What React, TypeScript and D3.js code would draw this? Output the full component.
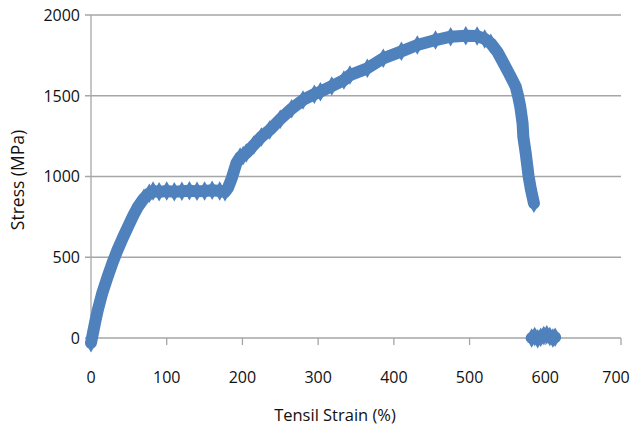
import React from "react";
import * as d3 from "d3";

const strain = [0, 3, 6, 9, 15, 22, 28, 35, 42, 49, 56, 62, 70, 77, 82, 90, 100, 110, 120, 130, 140, 150, 160, 170, 177, 181, 186, 192, 197, 201, 205, 215, 225, 236, 250, 265, 280, 295, 303, 318, 334, 342, 365, 386, 410, 431, 455, 475, 495, 510, 520, 528, 537, 545, 553, 561, 564, 567, 570, 571, 574, 578, 581, 585];
const stress = [-30, 40, 110, 173, 280, 380, 460, 545, 620, 690, 760, 813, 865, 896, 910, 905, 910, 905, 908, 912, 908, 910, 915, 910, 905, 930, 990, 1082, 1120, 1130, 1145, 1195, 1245, 1288, 1355, 1420, 1474, 1510, 1525, 1560, 1597, 1628, 1670, 1732, 1775, 1814, 1845, 1866, 1872, 1870, 1852, 1825, 1770, 1700, 1630, 1556, 1500, 1432, 1329, 1246, 1150, 1000, 920, 834];
const breakStrain = [582, 586, 590, 594, 598, 602, 606, 610, 613];
const breakStress = [0, 10, -5, 5, 15, 20, 10, 0, 5];
const xTicks = [0, 100, 200, 300, 400, 500, 600, 700];
const yTicks = [0, 500, 1000, 1500, 2000];

const W = 631, H = 433;
const color = "#4F81BD";
const grid = "#a6a6a6";
const font = "'Open Sans', 'Liberation Sans', sans-serif";

export default function App() {
  const x = d3.scaleLinear().domain([0, 700]).range([91, 621]);
  const y = d3.scaleLinear().domain([0, 2000]).range([338, 15]);
  const main = strain.map((s, i) => [s, stress[i]] as [number, number]);
  const brk = breakStrain.map((s, i) => [s, breakStress[i]] as [number, number]);
  const line = d3.line<[number, number]>().x(d => x(d[0])).y(d => y(d[1]));
  const diamond = d3.symbol().type(d3.symbolDiamond).size(110)();
  return (
    <svg width={W} height={H} style={{ position: "absolute", left: 0, top: 0, background: "#fff" }}>
      {yTicks.map(t => (
        <g key={t}>
          <line x1={85} x2={621} y1={y(t)} y2={y(t)} stroke={grid} strokeWidth={1.3} />
          <text x={80} y={y(t)} dy="0.36em" textAnchor="end" fontFamily={font} fontSize={16} fill="#111">{t}</text>
        </g>
      ))}
      <line x1={x(0)} x2={x(0)} y1={y(2000)} y2={345} stroke={grid} strokeWidth={1.3} />
      {xTicks.map(t => (
        <g key={t}>
          <line x1={x(t)} x2={x(t)} y1={y(0)} y2={345} stroke={grid} strokeWidth={1.3} />
          <text x={Math.min(x(t), 616)} y={377} dy="0.36em" textAnchor="middle" fontFamily={font} fontSize={16} fill="#111">{t}</text>
        </g>
      ))}
      <path d={line(main) || ""} fill="none" stroke={color} strokeWidth={12} strokeLinejoin="round" strokeLinecap="round" />
      {main.map((d, i) => (
        <path key={"m" + i} d={diamond} transform={`translate(${x(d[0])},${y(d[1])})`} fill={color} />
      ))}
      <path d={line(brk) || ""} fill="none" stroke={color} strokeWidth={12} strokeLinejoin="round" strokeLinecap="round" />
      {brk.map((d, i) => (
        <path key={"b" + i} d={diamond} transform={`translate(${x(d[0])},${y(d[1])})`} fill={color} />
      ))}
      <text x={335} y={415} dy="0.36em" textAnchor="middle" fontFamily={font} fontSize={16.5} fill="#111">Tensil Strain (%)</text>
      <text transform="translate(18,180) rotate(-90)" dy="0.36em" textAnchor="middle" fontFamily={font} fontSize={17.5} fill="#111">Stress (MPa)</text>
    </svg>
  );
}
